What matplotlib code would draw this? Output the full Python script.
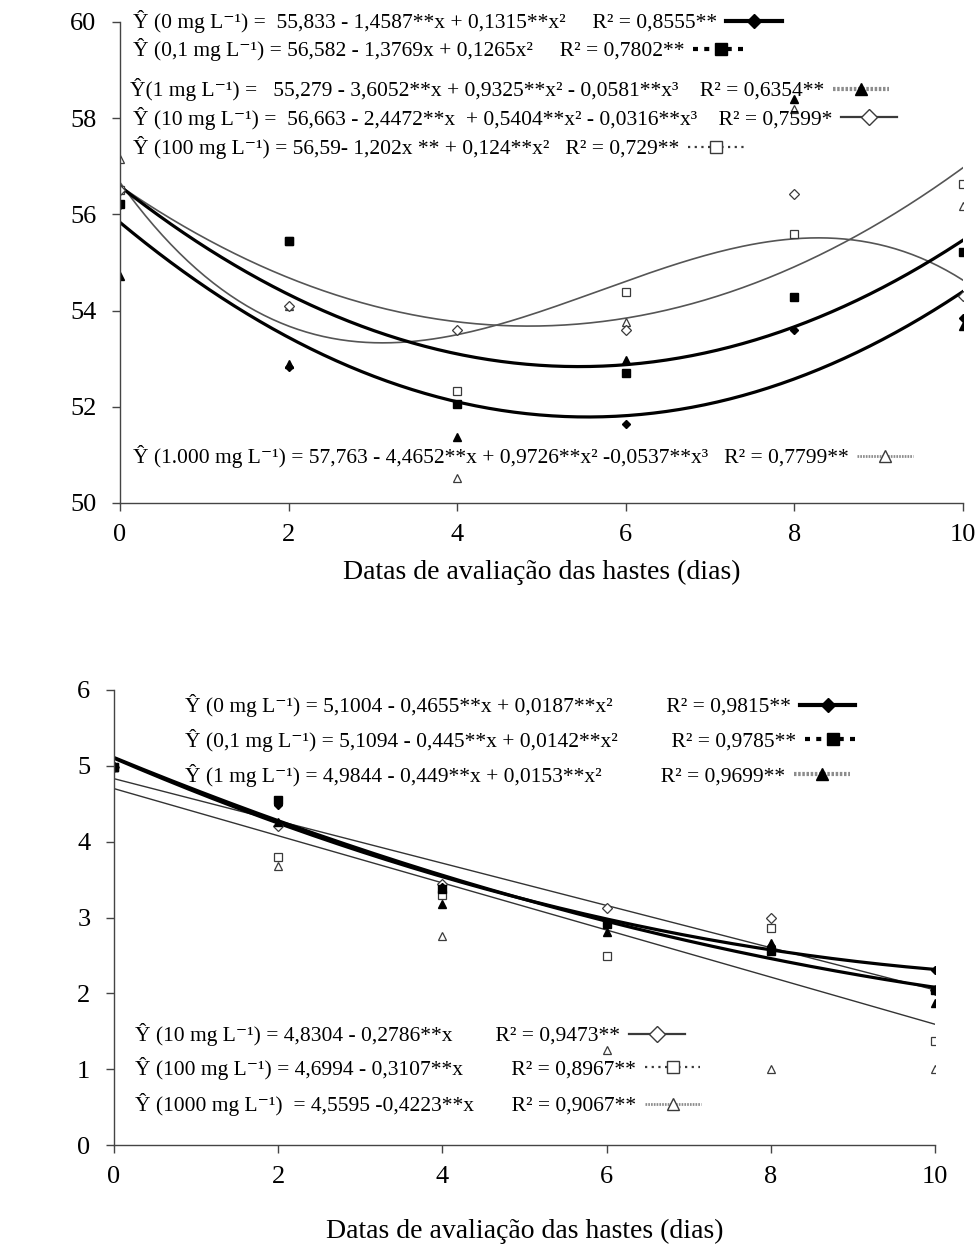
import numpy as np
import matplotlib
matplotlib.use('Agg')
import matplotlib.pyplot as plt
from matplotlib.lines import Line2D
from matplotlib.legend import Legend

plt.rcParams['font.family'] = ['Liberation Serif', 'DejaVu Serif']

dias = [0, 2, 4, 6, 8, 10]

# painel superior - valores observados
sup_0 = [56.2, 52.83, 52.06, 51.64, 53.60, 53.85]
sup_01 = [56.22, 55.45, 52.06, 52.71, 54.29, 55.21]
sup_1 = [54.72, 52.88, 51.37, 52.97, 58.40, 53.68]
sup_10 = [56.5, 54.1, 53.60, 53.60, 56.42, 54.31]
sup_100 = [56.5, 55.45, 52.33, 54.39, 55.59, 56.63]
sup_1000 = [57.15, 54.10, 50.52, 53.77, 58.20, 56.18]

# coeficientes das regressoes (maior grau primeiro)
sup_coef_0 = [0.1315, -1.4587, 55.833]
sup_coef_01 = [0.1265, -1.3769, 56.582]
sup_coef_10 = [-0.0316, 0.5404, -2.4472, 56.663]
sup_coef_100 = [0.124, -1.202, 56.59]

sup_eq = [
    'Ŷ (0 mg L⁻¹) =  55,833 - 1,4587**x + 0,1315**x²     R² = 0,8555**',
    'Ŷ (0,1 mg L⁻¹) = 56,582 - 1,3769x + 0,1265x²     R² = 0,7802**',
    'Ŷ(1 mg L⁻¹) =   55,279 - 3,6052**x + 0,9325**x² - 0,0581**x³    R² = 0,6354**',
    'Ŷ (10 mg L⁻¹) =  56,663 - 2,4472**x  + 0,5404**x² - 0,0316**x³    R² = 0,7599*',
    'Ŷ (100 mg L⁻¹) = 56,59- 1,202x ** + 0,124**x²   R² = 0,729**',
    'Ŷ (1.000 mg L⁻¹) = 57,763 - 4,4652**x + 0,9726**x² -0,0537**x³   R² = 0,7799**',
]

# painel inferior - valores observados
inf_0 = [5.0, 4.48, 3.40, 2.94, 2.62, 2.31]
inf_01 = [4.99, 4.55, 3.38, 2.91, 2.56, 2.05]
inf_1 = [4.99, 4.26, 3.18, 2.81, 2.67, 1.87]
inf_10 = [4.99, 4.20, 3.44, 3.12, 3.00, 2.05]
inf_100 = [4.99, 3.80, 3.30, 2.49, 2.86, 1.37]
inf_1000 = [4.99, 3.68, 2.75, 1.25, 1.00, 1.00]

inf_coef_0 = [0.0187, -0.4655, 5.1004]
inf_coef_01 = [0.0142, -0.445, 5.1094]
inf_coef_10 = [-0.2786, 4.8304]
inf_coef_100 = [-0.3107, 4.6994]

inf_eq = [
    'Ŷ (0 mg L⁻¹) = 5,1004 - 0,4655**x + 0,0187**x²          R² = 0,9815**',
    'Ŷ (0,1 mg L⁻¹) = 5,1094 - 0,445**x + 0,0142**x²          R² = 0,9785**',
    'Ŷ (1 mg L⁻¹) = 4,9844 - 0,449**x + 0,0153**x²           R² = 0,9699**',
    'Ŷ (10 mg L⁻¹) = 4,8304 - 0,2786**x        R² = 0,9473**',
    'Ŷ (100 mg L⁻¹) = 4,6994 - 0,3107**x         R² = 0,8967**',
    'Ŷ (1000 mg L⁻¹)  = 4,5595 -0,4223**x       R² = 0,9067**',
]

cinza = '#8c8c8c'
escuro = '#3a3a3a'

# amostras de legenda
h0 = Line2D([], [], color='black', lw=3, marker='D', ms=7, mfc='black', mec='black')
h01 = Line2D([], [], color='black', lw=3, ls=(0, (1.2, 1.5)), marker='s', ms=8, mfc='black', mec='black')
h1 = Line2D([], [], color=cinza, lw=3, ls=(0, (0.6, 0.4)), marker='^', ms=9, mfc='black', mec='black')
h10 = Line2D([], [], color=escuro, lw=1.6, marker='D', ms=8, mfc='white', mec=escuro)
h100 = Line2D([], [], color=escuro, lw=1.6, ls=(0, (1, 2)), marker='s', ms=9, mfc='white', mec=escuro)
h1000 = Line2D([], [], color=cinza, lw=2, ls=(0, (0.6, 0.4)), marker='^', ms=9, mfc='white', mec=escuro)
handles = [h0, h01, h1, h10, h100, h1000]


def linha_eq(ax, texto, handle, x, y, fs, hl=2.6):
    leg = Legend(ax, [handle], [texto], loc='center left', bbox_to_anchor=(x, y),
                 markerfirst=False, frameon=False, handlelength=hl,
                 handletextpad=0.4, borderpad=0, borderaxespad=0,
                 fontsize=fs)
    ax.add_artist(leg)


def pontos(ax, series):
    # abertos primeiro, cheios por cima
    ax.plot(dias, series[5], ls='none', marker='^', ms=6, mfc='white', mec=escuro, mew=0.9)
    ax.plot(dias, series[4], ls='none', marker='s', ms=6, mfc='white', mec=escuro, mew=0.9)
    ax.plot(dias, series[3], ls='none', marker='D', ms=5, mfc='white', mec=escuro, mew=0.9)
    ax.plot(dias, series[2], ls='none', marker='^', ms=6, color='black')
    ax.plot(dias, series[0], ls='none', marker='D', ms=4.5, color='black')
    ax.plot(dias, series[1], ls='none', marker='s', ms=6, color='black')


def estilo(ax, ymin, ymax, ystep):
    ax.set_xlim(0, 10)
    ax.set_ylim(ymin, ymax)
    ax.set_xticks(range(0, 11, 2))
    ax.set_yticks(np.arange(ymin, ymax + 0.1, ystep))
    ax.spines['top'].set_visible(False)
    ax.spines['right'].set_visible(False)
    for s in ('left', 'bottom'):
        ax.spines[s].set_color('#444444')
        ax.spines[s].set_linewidth(1.0)
    ax.tick_params(direction='out', length=6, width=1, color='#444444',
                   labelsize=19)
    ax.tick_params(axis='x', pad=9)
    ax.tick_params(axis='y', pad=11)


fig = plt.figure(figsize=(9.77, 12.45), dpi=100)
xx = np.linspace(0, 10, 200)

# ---------- painel superior ----------
ax1 = fig.add_axes([0.1228, 0.596, 0.8629, 0.3864])
ax1.plot(xx, np.polyval(sup_coef_10, xx), color='#555555', lw=1.2)
ax1.plot(xx, np.polyval(sup_coef_100, xx), color='#555555', lw=1.2)
ax1.plot(xx, np.polyval(sup_coef_0, xx), color='black', lw=2.3)
ax1.plot(xx, np.polyval(sup_coef_01, xx), color='black', lw=2.3)
pontos(ax1, [sup_0, sup_01, sup_1, sup_10, sup_100, sup_1000])
estilo(ax1, 50, 60, 2)
ax1.set_xlabel('Datas de avaliação das hastes (dias)', fontsize=20, labelpad=10)

sup_pos = [(0.0154, 1.0), (0.0154, 0.942), (0.012, 0.859), (0.0154, 0.800),
           (0.0154, 0.738), (0.0154, 0.0956)]
for txt, h, (px, py) in zip(sup_eq, handles, sup_pos):
    linha_eq(ax1, txt, h, px, py, 15.5)

# ---------- painel inferior ----------
ax2 = fig.add_axes([0.1167, 0.0803, 0.8403, 0.3655])
ax2.plot(xx, np.polyval(inf_coef_10, xx), color='#333333', lw=1.0)
ax2.plot(xx, np.polyval(inf_coef_100, xx), color='#333333', lw=1.0)
ax2.plot(xx, np.polyval(inf_coef_0, xx), color='black', lw=2.3)
ax2.plot(xx, np.polyval(inf_coef_01, xx), color='black', lw=2.3)
pontos(ax2, [inf_0, inf_01, inf_1, inf_10, inf_100, inf_1000])
estilo(ax2, 0, 6, 1)
ax2.set_xlabel('Datas de avaliação das hastes (dias)', fontsize=20, labelpad=22)

inf_pos = [(0.0865, 0.965), (0.0865, 0.890), (0.0865, 0.813), (0.0256, 0.242),
           (0.0256, 0.169), (0.0256, 0.088)]
for txt, h, (px, py) in zip(inf_eq, handles, inf_pos):
    linha_eq(ax2, txt, h, px, py, 15.5)

fig.savefig('out.png', dpi=100)
